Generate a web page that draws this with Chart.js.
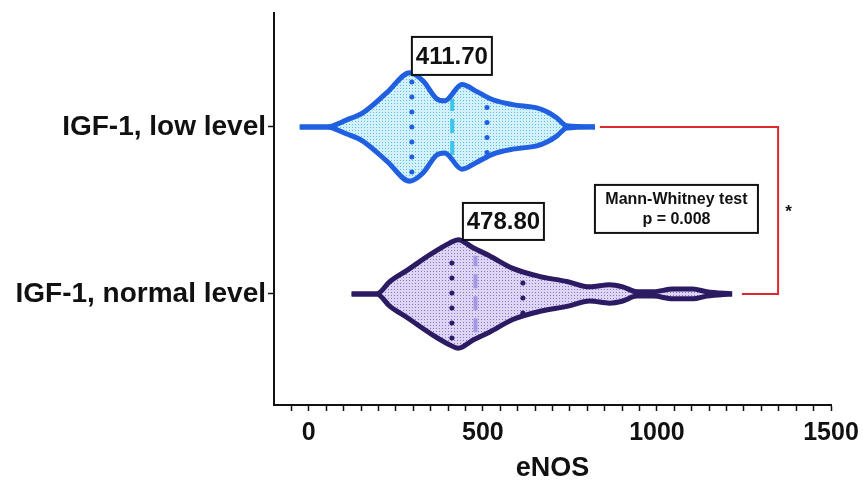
<!DOCTYPE html>
<html>
<head>
<meta charset="utf-8">
<script src="https://cdn.jsdelivr.net/npm/chart.js@4.4.1/dist/chart.umd.min.js"></script>
<style>
    html, body { margin: 0; padding: 0; background: #fff; }
    #wrap { width: 863px; height: 482px; }
</style>
</head>
<body>
<div id="wrap"><canvas id="chart"></canvas></div>
<script>
// Groups on the y axis (value 1 = bottom, value 2 = top)
const groups = ['IGF-1, normal level', 'IGF-1, low level'];

// Violin outlines: eNOS value and relative density (peak = 100)
const lowValues = [-26, 51, 109, 155, 224, 290, 328, 367, 390, 440, 483, 529, 586, 655, 684, 712, 741, 822];
const lowDensity = [0, 0, 13, 26, 63, 100, 85, 52, 48, 78, 65, 50, 41, 35, 28, 17, 2, 0];
const normalValues = [123, 195, 233, 281, 347, 405, 429, 472, 520, 586, 664, 741, 807, 864, 902, 942, 990, 1046, 1103, 1143, 1216];
const normalDensity = [0, 0, 23, 43, 72, 94, 100, 85, 70, 47, 32, 23, 13, 17, 13, 4, 4, 9, 9, 4, 0];

// Quartiles: Q1, median, Q3
const lowQuartiles = [296, 411.7, 512];
const normalQuartiles = [411, 478.8, 615];

// Texts
const medianLabels = ['411.70', '478.80'];
const xTickLabels = [0, 500, 1000, 1500];
const testLines = ['Mann-Whitney test', 'p = 0.008'];
const significance = '*';

const FONT = '"Liberation Sans", Arial, Helvetica, sans-serif';
const HALF = 0.325; // half height of a violin at peak density, in y units

// Small dotted fill like the original print
function makePattern(bg, dot) {
    const c = document.createElement('canvas');
    c.width = 3;
    c.height = 3;
    const g = c.getContext('2d');
    g.fillStyle = bg;
    g.fillRect(0, 0, 3, 3);
    g.fillStyle = dot;
    g.fillRect(1, 1, 1, 1);
    return g.createPattern(c, 'repeat');
}

function outline(values, density, center, sign) {
    return values.map((v, i) => ({ x: v, y: center + sign * density[i] / 100 * HALF }));
}

function densityAt(values, density, q) {
    for (let i = 1; i < values.length; i++) {
        if (q <= values[i]) {
            const t = (q - values[i - 1]) / (values[i] - values[i - 1]);
            return density[i - 1] + t * (density[i] - density[i - 1]);
        }
    }
    return 0;
}

function violin(values, density, center, stroke, fill) {
    const base = {
        showLine: true,
        pointRadius: 0,
        borderColor: stroke,
        borderWidth: 5,
        cubicInterpolationMode: 'monotone',
    };
    return [
        Object.assign({}, base, { data: outline(values, density, center, 1), fill: '+1', backgroundColor: fill }),
        Object.assign({}, base, { data: outline(values, density, center, -1), fill: false }),
    ];
}

function quartileLines(values, density, quartiles, center, dotColor, medianColor) {
    return quartiles.map((q, i) => {
        const h = densityAt(values, density, q) / 100 * HALF * 0.85;
        const median = i === 1;
        return {
            showLine: true,
            pointRadius: 0,
            fill: false,
            data: [{ x: q, y: center - h }, { x: q, y: center + h }],
            borderColor: median ? medianColor : dotColor,
            borderWidth: median ? 4 : 5,
            borderDash: median ? [14, 8] : [0, 15],
            borderCapStyle: median ? 'butt' : 'round',
        };
    });
}

const ctx = document.getElementById('chart').getContext('2d');
const lowFill = makePattern('#d3f1fa', '#5dbde6');
const normalFill = makePattern('#ddd5f3', '#8576c6');

const bracketX = [836, 1348, 1244];

const datasets = [
    ...violin(lowValues, lowDensity, 2, '#1f5fe0', lowFill),
    ...violin(normalValues, normalDensity, 1, '#2c1a63', normalFill),
    ...quartileLines(lowValues, lowDensity, lowQuartiles, 2, '#1f5fe0', '#3ec6ea'),
    ...quartileLines(normalValues, normalDensity, normalQuartiles, 1, '#2c1a63', '#a597e2'),
    {
        showLine: true,
        pointRadius: 0,
        fill: false,
        tension: 0,
        borderColor: '#e0282e',
        borderWidth: 2,
        data: [{ x: bracketX[0], y: 2 }, { x: bracketX[1], y: 2 }, { x: bracketX[1], y: 1 }, { x: bracketX[2], y: 1 }],
    },
];

function drawBox(c, cx, cy, w, h, lines, font, lineGap) {
    c.save();
    c.fillStyle = '#fff';
    c.fillRect(cx - w / 2, cy - h / 2, w, h);
    c.strokeStyle = '#111';
    c.lineWidth = 2;
    c.strokeRect(cx - w / 2, cy - h / 2, w, h);
    c.fillStyle = '#111';
    c.font = font;
    c.textAlign = 'center';
    c.textBaseline = 'middle';
    const top = cy - (lines.length - 1) * lineGap / 2;
    lines.forEach((t, i) => c.fillText(t, cx, top + i * lineGap + 1));
    c.restore();
}

// Boxes with medians, the test result and the star
const annotations = {
    id: 'annotations',
    afterDatasetsDraw(chart) {
        const c = chart.ctx;
        const x = chart.scales.x;
        const y = chart.scales.y;
        drawBox(c, x.getPixelForValue(411), y.getPixelForValue(2.425), 80, 38, [medianLabels[0]], 'bold 24px ' + FONT, 0);
        drawBox(c, x.getPixelForValue(559), y.getPixelForValue(1.434), 81, 37, [medianLabels[1]], 'bold 24px ' + FONT, 0);
        drawBox(c, x.getPixelForValue(1056), y.getPixelForValue(1.509), 163, 48, testLines, 'bold 16px ' + FONT, 20);
        c.save();
        c.fillStyle = '#111';
        c.font = 'bold 17px ' + FONT;
        c.textAlign = 'center';
        c.textBaseline = 'middle';
        c.fillText(significance, x.getPixelForValue(1378), y.getPixelForValue(1.49));
        c.restore();
    }
};

new Chart(ctx, {
    type: 'scatter',
    data: { datasets },
    plugins: [annotations],
    options: {
        responsive: true,
        maintainAspectRatio: false,
        animation: false,
        events: [],
        layout: { padding: { top: 13, right: 32, left: 0, bottom: 0 } },
        plugins: {
            legend: { display: false },
            tooltip: { enabled: false },
            filler: { drawTime: 'beforeDatasetsDraw' },
        },
        scales: {
            x: {
                type: 'linear',
                min: -100,
                max: 1500,
                afterFit: s => {
                    s.height = 77;
                    s.paddingRight = 0;
                    s.paddingLeft = 0;
                },
                afterBuildTicks: s => {
                    const t = [];
                    for (let v = -50; v <= 1500; v += 50) t.push({ value: v });
                    s.ticks = t;
                },
                ticks: {
                    autoSkip: false,
                    maxRotation: 0,
                    padding: 7,
                    color: '#111',
                    font: { family: FONT, size: 25, weight: 'bold' },
                    callback: v => xTickLabels.includes(v) ? String(v) : '',
                },
                grid: {
                    drawOnChartArea: false,
                    tickLength: 6,
                    tickColor: '#111',
                    tickWidth: 1.5,
                },
                border: { color: '#111', width: 2 },
                title: {
                    display: true,
                    text: 'eNOS',
                    color: '#111',
                    font: { family: FONT, size: 27, weight: 'bold', lineHeight: 1.0 },
                    padding: { top: 0, bottom: 0 },
                },
            },
            y: {
                type: 'linear',
                min: 0.335,
                max: 2.682,
                afterFit: s => { s.width = 274; },
                afterBuildTicks: s => { s.ticks = [{ value: 1 }, { value: 2 }]; },
                ticks: {
                    padding: 2,
                    color: '#111',
                    font: { family: FONT, size: 28, weight: 'bold', lineHeight: 0.7 },
                    callback: v => groups[v - 1],
                },
                grid: {
                    drawOnChartArea: false,
                    tickLength: 6,
                    tickColor: '#111',
                    tickWidth: 1.5,
                },
                border: { color: '#111', width: 2 },
            },
        },
    },
});
</script>
</body>
</html>
